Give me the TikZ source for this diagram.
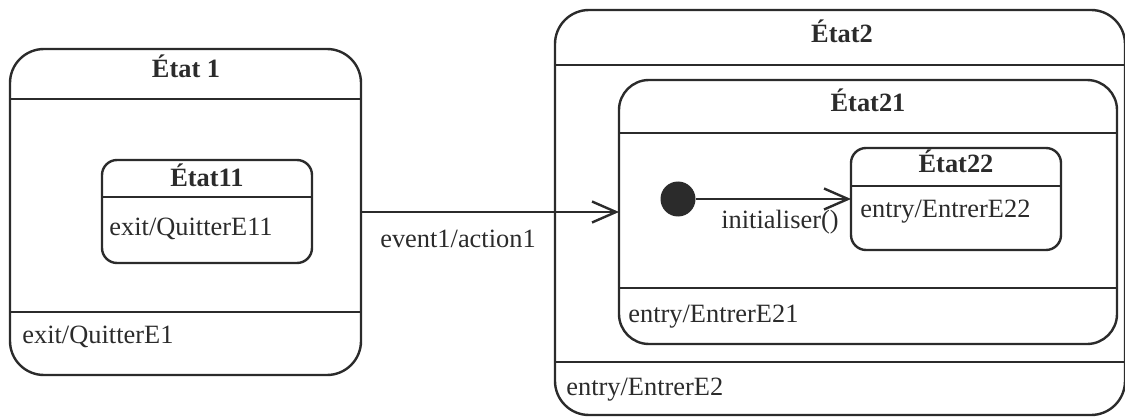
\documentclass[tikz,border=0pt]{standalone}
\usepackage{fontspec}
\setmainfont{Liberation Serif}
\usetikzlibrary{fit,arrows.meta}
\definecolor{ink}{HTML}{2B2B2B}
\begin{document}
\begin{tikzpicture}[x=0.5pt,y=-0.5pt,
  statebox/.style={draw=ink, line width=1.2pt, inner sep=0pt, outer sep=0pt},
  sepline/.style={draw=ink, line width=1.2pt},
  lbl/.style={font=\fontsize{13.2}{15}\selectfont, text=ink, inner sep=0pt},
  ttl/.style={font=\fontsize{13.2}{15}\selectfont\bfseries, text=ink, inner sep=0pt},
  trans/.style={draw=ink, line width=1.2pt, -{Straight Barb[length=12pt,width=10.5pt,line width=1.2pt]}}]
\useasboundingbox (0,0) rectangle (1125,417);

% corner coordinates
\coordinate (a1) at (10,49);   \coordinate (b1) at (361,375);
\coordinate (a11) at (102,160); \coordinate (b11) at (312,263);
\coordinate (a2) at (555,10);  \coordinate (b2) at (1125,415);
\coordinate (a21) at (619,80); \coordinate (b21) at (1117,344);
\coordinate (a22) at (851,148); \coordinate (b22) at (1061,250);

% State boxes
\node[statebox, rounded corners=17pt, fit=(a1)(b1)] (e1) {};
\node[statebox, rounded corners=7.5pt, fit=(a11)(b11)] (e11) {};
\node[statebox, rounded corners=17pt, fit=(a2)(b2)] (e2) {};
\node[statebox, rounded corners=15pt, fit=(a21)(b21)] (e21) {};
\node[statebox, rounded corners=7.5pt, fit=(a22)(b22)] (e22) {};

% compartments
\draw[sepline] (e1.west |- 0,99) -- (e1.east |- 0,99);
\draw[sepline] (e1.west |- 0,312) -- (e1.east |- 0,312);
\draw[sepline] (e11.west |- 0,197) -- (e11.east |- 0,197);
\draw[sepline] (e2.west |- 0,65) -- (e2.east |- 0,65);
\draw[sepline] (e2.west |- 0,362) -- (e2.east |- 0,362);
\draw[sepline] (e21.west |- 0,133) -- (e21.east |- 0,133);
\draw[sepline] (e21.west |- 0,288) -- (e21.east |- 0,288);
\draw[sepline] (e22.west |- 0,186) -- (e22.east |- 0,186);

% titles
\node[ttl, anchor=base] (t1) at (186,78) {État 1};
\node[ttl, anchor=base] (t11) at (207,186) {État11};
\node[ttl, anchor=base] (t2) at (842,43) {État2};
\node[ttl, anchor=base] (t21) at (868,112) {État21};
\node[ttl, anchor=base] (t22) at (956,172) {État22};

% activities
\node[lbl, anchor=base west] (x1) at (22,343) {exit/QuitterE1};
\node[lbl, anchor=base west] (x11) at (109,235) {exit/QuitterE11};
\node[lbl, anchor=base west] (n2) at (566,395) {entry/EntrerE2};
\node[lbl, anchor=base west] (n21) at (628,322) {entry/EntrerE21};
\node[lbl, anchor=base west] (n22) at (860,218) {entry/EntrerE22};

% initial pseudostate
\node[circle, fill=ink, minimum size=17.5pt, inner sep=0pt] (init) at (678,199) {};

% transitions
\draw[trans] (e1.east) -- (e21.west);
\node[lbl, anchor=base] (ev) at (458,248) {event1/action1};
\draw[trans] (init) -- (e22.west);
\node[lbl, anchor=base] (ini) at (780,228) {initialiser()};
\end{tikzpicture}
\end{document}
